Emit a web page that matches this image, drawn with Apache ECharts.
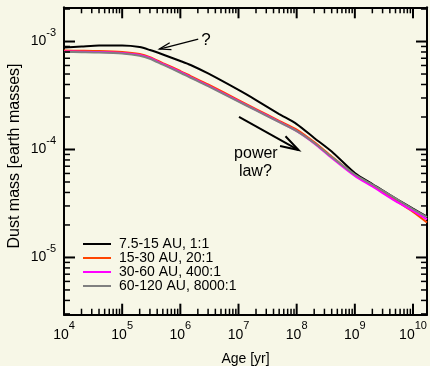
<!DOCTYPE html>
<html><head><meta charset="utf-8">
<script src="https://cdn.jsdelivr.net/npm/echarts@6/dist/echarts.min.js"></script>
<style>html,body{margin:0;padding:0;background:#F7F7E7;}#c{width:430px;height:366px;}</style>
</head><body><div id="c"></div>
<script>
// ---- data ----
const ages = [1e4, 2e4, 4e4, 1e5, 2e5, 3e5, 5e5, 1e6, 1.5e6, 3e6, 1e7, 2e7, 5e7, 1e8, 2e8, 4e8, 1e9, 2e9, 5e9, 1e10, 1.74e10];
const mass_7_15   = [8.80e-4, 8.99e-4, 9.18e-4, 9.18e-4, 8.89e-4, 8.34e-4, 7.58e-4, 6.60e-4, 6.06e-4, 5.06e-4, 3.56e-4, 2.87e-4, 2.13e-4, 1.72e-4, 1.28e-4, 9.58e-5, 6.06e-5, 4.79e-5, 3.52e-5, 2.83e-5, 2.39e-5];
const mass_15_30  = [8.25e-4, 8.22e-4, 8.17e-4, 8.00e-4, 7.66e-4, 7.18e-4, 6.32e-4, 5.33e-4, 4.79e-4, 4.00e-4, 2.87e-4, 2.37e-4, 1.84e-4, 1.53e-4, 1.17e-4, 8.61e-5, 5.81e-5, 4.64e-5, 3.37e-5, 2.64e-5, 2.11e-5];
const mass_30_60  = [8.08e-4, 8.05e-4, 8.00e-4, 7.82e-4, 7.50e-4, 7.03e-4, 6.19e-4, 5.22e-4, 4.69e-4, 3.91e-4, 2.81e-4, 2.32e-4, 1.80e-4, 1.48e-4, 1.14e-4, 8.34e-5, 5.68e-5, 4.54e-5, 3.33e-5, 2.70e-5, 2.25e-5];
const mass_60_120 = [8.00e-4, 7.96e-4, 7.91e-4, 7.74e-4, 7.39e-4, 6.93e-4, 6.10e-4, 5.14e-4, 4.62e-4, 3.86e-4, 2.78e-4, 2.30e-4, 1.79e-4, 1.48e-4, 1.15e-4, 8.52e-5, 5.87e-5, 4.74e-5, 3.52e-5, 2.81e-5, 2.37e-5];
const seriesNames = ['7.5-15 AU, 1:1', '15-30 AU, 20:1', '30-60 AU, 400:1', '60-120 AU, 8000:1'];
const seriesColors = ['#000000', '#FF4500', '#FF00FF', '#808080'];
const xRange = [1e4, 1.74e10];
const yRange = [2.95e-6, 2.075e-3];
const minorMultipliers = [2, 3, 4, 5, 6, 7, 8, 9];
const xDecades = [4, 5, 6, 7, 8, 9, 10];
const yDecades = [-6, -5, -4, -3];
const xTitle = 'Age [yr]';
const yTitle = 'Dust mass [earth masses]';
// annotations: [from, to] in data coordinates
const questionArrow = [[2.03e6, 1.054e-3], [4.38e5, 8.52e-4]];
const powerArrow = [[1.02e7, 2.01e-4], [1.08e8, 9.89e-5]];
const annTexts = ['?', 'power', 'law?'];
const annTextAt = [[2.75e6, 1.032e-3], [1.99e7, 9.08e-5], [1.95e7, 6.26e-5]];

// ---- build ----
const FONT = '"Liberation Sans", Arial, Helvetica, sans-serif';
const xMajor = [], yMajor = [], xMinor = [], yMinor = [];
const inX = v => v >= xRange[0] * 0.9999 && v <= xRange[1];
const inY = v => v >= yRange[0] && v <= yRange[1];
xDecades.forEach(e => { const d = Math.pow(10, e); if (inX(d)) xMajor.push(d); minorMultipliers.forEach(k => { if (inX(k * d) && k * d < xRange[1]) xMinor.push(k * d); }); });
yDecades.forEach(e => { const d = Math.pow(10, e); if (inY(d)) yMajor.push(d); minorMultipliers.forEach(k => { if (inY(k * d) && k * d > yRange[0] * 1.001) yMinor.push(k * d); }); });

function powLabel(v) {
  const l = Math.log10(v), e = Math.round(l);
  if (Math.abs(l - e) > 1e-6) return '';
  return '{b|10}{s|' + e + '}';
}
const rich = {
  b: {fontSize: 14, lineHeight: 28, verticalAlign: 'middle', fontFamily: FONT, color: '#000'},
  s: {fontSize: 11, verticalAlign: 'top', fontFamily: FONT, color: '#000'}
};
const axLine = {show: true, lineStyle: {color: '#000', width: 2}};
const noTick = {show: false};
const MAJOR = 11, MINOR = 6;

const dataSets = [mass_7_15, mass_15_30, mass_30_60, mass_60_120];
const lineSeries = dataSets.map((m, i) => ({
  name: seriesNames[i], type: 'line', xAxisIndex: 0, yAxisIndex: 0,
  data: ages.map((a, j) => [a, m[j]]),
  symbol: 'none', smooth: 0.25,
  lineStyle: {color: seriesColors[i], width: 2}, itemStyle: {color: seriesColors[i]},
  z: 3 + i
}));

function arrowHead(tip, tail, len, ang) {
  const a = Math.atan2(tail[1] - tip[1], tail[0] - tip[0]);
  return [[tip[0] + len * Math.cos(a + ang), tip[1] + len * Math.sin(a + ang)], tip,
          [tip[0] + len * Math.cos(a - ang), tip[1] + len * Math.sin(a - ang)]];
}

const option = {
  backgroundColor: '#F7F7E7',
  animation: false,
  textStyle: {fontFamily: FONT},
  grid: {left: 64, right: 1.5, top: 7.3, bottom: 51.3, containLabel: false},
  legend: {
    data: seriesNames, orient: 'vertical', left: 82, top: 237, padding: 0,
    itemWidth: 28, itemHeight: 16.6, itemGap: 0, selectedMode: false,
    itemStyle: {opacity: 0},
    textStyle: {fontSize: 14, color: '#000', fontFamily: FONT, padding: [0, 0, 0, 3]}
  },
  xAxis: [
    {type: 'log', logBase: 10, min: xRange[0], max: xRange[1], position: 'bottom',
     axisLine: axLine, axisTick: noTick, splitLine: {show: false},
     axisLabel: {formatter: powLabel, rich: rich, margin: 6}},
    {type: 'log', logBase: 10, min: xRange[0], max: xRange[1], position: 'top',
     axisLine: axLine, axisTick: noTick, splitLine: {show: false}, axisLabel: {show: false}}
  ],
  yAxis: [
    {type: 'log', logBase: 10, min: yRange[0], max: yRange[1], position: 'left',
     axisLine: axLine, axisTick: noTick, splitLine: {show: false},
     axisLabel: {formatter: powLabel, rich: rich, margin: 8}},
    {type: 'log', logBase: 10, min: yRange[0], max: yRange[1], position: 'right',
     axisLine: axLine, axisTick: noTick, splitLine: {show: false}, axisLabel: {show: false}}
  ],
  series: lineSeries.concat([
    {type: 'custom', silent: true, clip: false, z: 12, xAxisIndex: 0, yAxisIndex: 0,
     data: [questionArrow, powerArrow].map((a, i) => [a[0][0], a[0][1], a[1][0], a[1][1], i]),
     renderItem: (p, api) => {
       const from = api.coord([api.value(0), api.value(1)]), to = api.coord([api.value(2), api.value(3)]);
       const big = api.value(4) === 1;
       const w = big ? 2 : 1.3, len = big ? 19 : 12;
       return {type: 'group', children: [
         {type: 'line', shape: {x1: from[0], y1: from[1], x2: to[0], y2: to[1]}, style: {stroke: '#000', lineWidth: w}},
         {type: 'polyline', shape: {points: arrowHead(to, from, len, 0.3)}, style: {stroke: '#000', fill: null, lineWidth: w}}]};
     }},
    {type: 'custom', silent: true, clip: false, z: 12, xAxisIndex: 0, yAxisIndex: 0,
     data: annTextAt.map((a, i) => [a[0], a[1], i]),
     renderItem: (p, api) => {
       const c = api.coord([api.value(0), api.value(1)]);
       const i = api.value(2);
       return {type: 'text', x: c[0], y: c[1],
         style: {text: annTexts[i], fontSize: i === 0 ? 17 : 16, fontFamily: FONT, fill: '#000',
                 align: 'center', verticalAlign: 'middle', textAlign: 'center', textVerticalAlign: 'middle'}};
     }}
  ])
};
const chart = echarts.init(document.getElementById('c'), null, {renderer: 'canvas'});
chart.setOption(option);

// ticks on all four sides, positioned through the axes' own scales
const toPx = (x, y) => chart.convertToPixel({xAxisIndex: 0, yAxisIndex: 0}, [x, y]);
const g = [];
function tick(x1, y1, x2, y2, w) {
  g.push({type: 'line', z: 100, silent: true, shape: {x1: x1, y1: y1, x2: x2, y2: y2}, style: {stroke: '#000', lineWidth: w}});
}
xMajor.concat(xMinor).forEach(v => {
  const L = xMajor.indexOf(v) >= 0 ? MAJOR : MINOR, w = L === MAJOR ? 2 : 1.5;
  const b = toPx(v, yRange[0]), t = toPx(v, yRange[1]);
  tick(b[0], b[1], b[0], b[1] - L, w);
  tick(t[0], t[1], t[0], t[1] + L, w);
});
yMajor.concat(yMinor).forEach(v => {
  const L = yMajor.indexOf(v) >= 0 ? MAJOR : MINOR, w = L === MAJOR ? 2 : 1.5;
  const l = toPx(xRange[0], v), r = toPx(xRange[1], v);
  tick(l[0], l[1], l[0] + L, l[1], w);
  tick(r[0], r[1], r[0] - L, r[1], w);
});
const mid = toPx(Math.sqrt(xRange[0] * xRange[1]), yRange[0]);
g.push({type: 'text', z: 100, silent: true, x: mid[0], y: mid[1] + 44,
  style: {text: xTitle, fontSize: 14, fontFamily: FONT, fill: '#000',
          align: 'center', verticalAlign: 'middle', textAlign: 'center', textVerticalAlign: 'middle'}});
g.push({type: 'text', z: 100, silent: true, x: 15, y: 156, rotation: Math.PI / 2,
  style: {text: yTitle, fontSize: 16, fontFamily: FONT, fill: '#000',
          align: 'center', verticalAlign: 'middle', textAlign: 'center', textVerticalAlign: 'middle'}});
chart.setOption({graphic: g});
</script></body></html>
